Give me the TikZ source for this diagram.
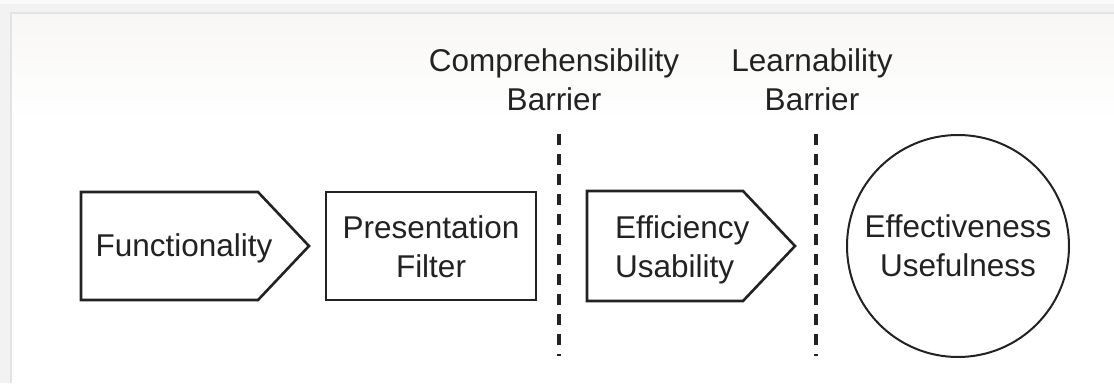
\documentclass[tikz,border=0pt]{standalone}
\usepackage{fontspec}
\setmainfont{Liberation Sans}
\definecolor{frame}{HTML}{F2F2F2}
\definecolor{frameedge}{HTML}{E3E3E3}
\definecolor{paneltop}{HTML}{F8F7F5}
\definecolor{ink}{HTML}{222222}
\tikzset{
  stage/.style={draw=ink, line width=2.6pt, fill=white, line join=miter},
  goal/.style={draw=ink, line width=2pt, fill=white},
  barrier/.style={draw=ink, line width=3.2pt, dash pattern=on 11pt off 9pt},
  label/.style={text=ink, inner sep=0pt, font=\fontsize{31.5}{39}\selectfont},
}
\begin{document}
\begin{tikzpicture}[x=1pt, y=-1pt]
  \useasboundingbox (0,0) rectangle (1114,383);
  % page frame and panel
  \fill[frame] (0,0) rectangle (1114,383);
  \fill[white!60!frame] (0,0) rectangle (1114,4);
  \fill[frameedge] (10,12) rectangle (1114,383);
  \shade[top color=paneltop, bottom color=white] (12,14) rectangle (1114,120);
  \fill[white] (12,120) rectangle (1114,383);

  % stage outlines
  \coordinate (f1) at (81,192);
  \coordinate (f2) at (258,192);
  \coordinate (f3) at (309,246);
  \coordinate (f4) at (258,300);
  \coordinate (f5) at (81,300);
  \draw[stage] (f1) -- (f2) -- (f3) -- (f4) -- (f5) -- cycle;

  \coordinate (p1) at (326,192);
  \coordinate (p2) at (536,300);
  \draw[stage] (p1) rectangle (p2);

  \coordinate (e1) at (587,191);
  \coordinate (e2) at (743,191);
  \coordinate (e3) at (795,246);
  \coordinate (e4) at (743,301);
  \coordinate (e5) at (587,301);
  \draw[stage] (e1) -- (e2) -- (e3) -- (e4) -- (e5) -- cycle;

  \node[goal, circle, minimum size=222pt, inner sep=0pt] (goal) at (958,246) {};

  % barriers
  \coordinate (cbtop) at (559,134);
  \coordinate (cbbot) at (559,356);
  \draw[barrier] (cbtop) -- (cbbot);
  \coordinate (lbtop) at (816,134);
  \coordinate (lbbot) at (816,356);
  \draw[barrier] (lbtop) -- (lbbot);

  % texts
  \node[label, anchor=base] (functionality) at (184,256) {Functionality};
  \node[label, anchor=base, align=center] (presentation) at (431,277) {Presentation\\Filter};
  \node[label, anchor=base west, align=left] (efficiency) at (615,277) {Efficiency\\Usability};
  \node[label, anchor=base, align=center] (effectiveness) at (958,276) {Effectiveness\\Usefulness};
  \node[label, anchor=base, align=center] (comprehension) at (554,110) {Comprehensibility\\Barrier};
  \node[label, anchor=base, align=center] (learnability) at (812,110) {Learnability\\Barrier};
\end{tikzpicture}
\end{document}
